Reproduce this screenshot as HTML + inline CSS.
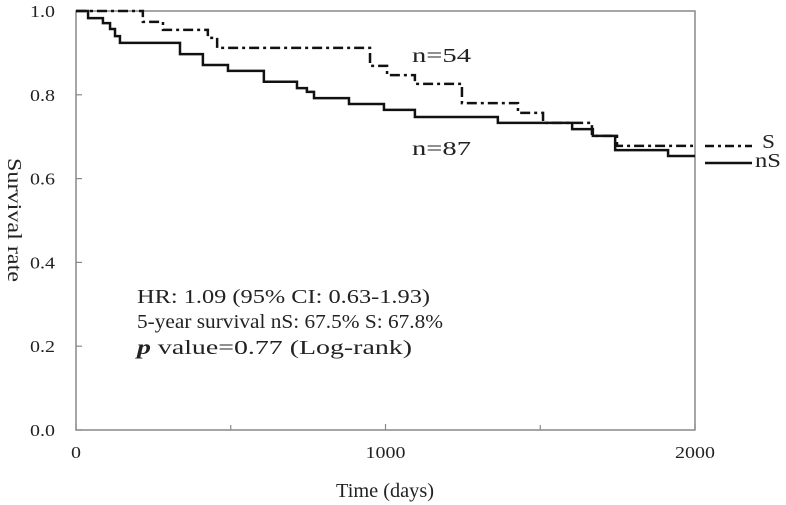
<!DOCTYPE html>
<html><head><meta charset="utf-8">
<style>
body{margin:0;background:#fff;}
svg{display:block;font-family:"Liberation Serif",serif;}
</style></head>
<body>
<svg width="786" height="505" viewBox="0 0 786 505">
<g id="plot"></g>
</svg>
<script>
const nsTimes=[0,39,87,110,126,142,336,410,491,607,714,746,769,882,995,1095,1363,1603,1670,1742,1913];
const nsSurv=[1,0.983,0.971,0.957,0.940,0.924,0.897,0.871,0.857,0.831,0.816,0.807,0.792,0.778,0.764,0.747,0.733,0.718,0.702,0.668,0.654];
const sTimes=[0,216,281,426,456,950,1005,1095,1247,1428,1509,1667,1748];
const sSurv=[1,0.974,0.955,0.936,0.912,0.869,0.847,0.826,0.780,0.757,0.733,0.702,0.678];
const yTicks=[0,0.2,0.4,0.6,0.8,1.0];
const xTicks=[0,1000,2000];
const xMinor=[500,1500];
const X0=76,X1=695,Y0=430,Y1=11,TMAX=2000;
const sx=t=>X0+t/TMAX*(X1-X0);
const sy=s=>Y0-s*(Y0-Y1);
const g=document.getElementById('plot');
const NS='http://www.w3.org/2000/svg';
function mk(tag,attrs){const e=document.createElementNS(NS,tag);for(const k in attrs)e.setAttribute(k,attrs[k]);g.appendChild(e);return e;}
let frame=mk('rect',{x:X0,y:Y1,width:X1-X0,height:Y0-Y1,fill:'none',stroke:'#888','stroke-width':1.5});


yTicks.forEach(v=>{
 const y=sy(v);
 let l=mk('line',{x1:X0,x2:X0+6,y1:y,y2:y,stroke:'#888','stroke-width':1.2});
 
 
 let t=mk('text',{x:55,y:y+6,'text-anchor':'end','font-size':17,fill:'#222',textLength:25,lengthAdjust:'spacingAndGlyphs'});
 t.textContent=v.toFixed(1);
 
 
});
xTicks.forEach(v=>{
 const x=sx(v);
 let l=mk('line',{x1:x,x2:x,y1:Y0,y2:Y0-6,stroke:'#888','stroke-width':1.2});
 
 
 const s=String(v);
 let t=mk('text',{x:x,y:Y0+28,'text-anchor':'middle','font-size':17,fill:'#222',textLength:s.length*10,lengthAdjust:'spacingAndGlyphs'});
 t.textContent=s;
 
 
});
xMinor.forEach(v=>{
 const x=sx(v);
 let l=mk('line',{x1:x,x2:x,y1:Y0,y2:Y0-5,stroke:'#888','stroke-width':1.2});
 
 
});
function stepPath(ts,ss){
 let d='M'+sx(ts[0])+','+sy(ss[0]);
 for(let i=1;i<ts.length;i++){d+=' H'+sx(ts[i])+' V'+sy(ss[i]);}
 d+=' H'+sx(TMAX);
 return d;
}
let pS=mk('path',{d:stepPath(sTimes,sSurv),fill:'none',stroke:'#111','stroke-width':2.5,'stroke-dasharray':'10,4,3,4'});


let pN=mk('path',{d:stepPath(nsTimes,nsSurv),fill:'none',stroke:'#111','stroke-width':2.5});


function txt(x,y,s,size,name,extra){let t=mk('text',Object.assign({x:x,y:y,'font-size':size,fill:'#222',lengthAdjust:'spacingAndGlyphs'},extra||{}));t.innerHTML=s;return t;}
txt(412,62,'n=54',20,'label-n54',{textLength:59});
txt(412,155,'n=87',20,'label-n87',{textLength:59});
txt(137,303,'HR: 1.09 (95% CI: 0.63-1.93)',20,'stat-hr',{textLength:293});
txt(137,328,'5-year survival nS: 67.5% S: 67.8%',20,'stat-5yr',{textLength:306});
txt(137,354,'<tspan font-style="italic" font-weight="bold">p</tspan> value=0.77 (Log-rank)',20,'stat-pvalue',{textLength:275});
txt(385,497,'Time (days)',20,'x-axis-title',{'text-anchor':'middle',textLength:98});
txt(0,0,'Survival rate',20,'y-axis-title',{'text-anchor':'middle',textLength:124,transform:'translate(8,220) rotate(90)'});
let l1=mk('line',{x1:705,x2:752,y1:146,y2:146,stroke:'#111','stroke-width':2.5,'stroke-dasharray':'9,4,3,4'});


txt(762,148,'S',20,'legend-s-label',{textLength:13});
let l2=mk('line',{x1:705,x2:752,y1:163,y2:163,stroke:'#111','stroke-width':2.5});


txt(755,167,'nS',20,'legend-ns-label',{textLength:26});
</script>
</body></html>
